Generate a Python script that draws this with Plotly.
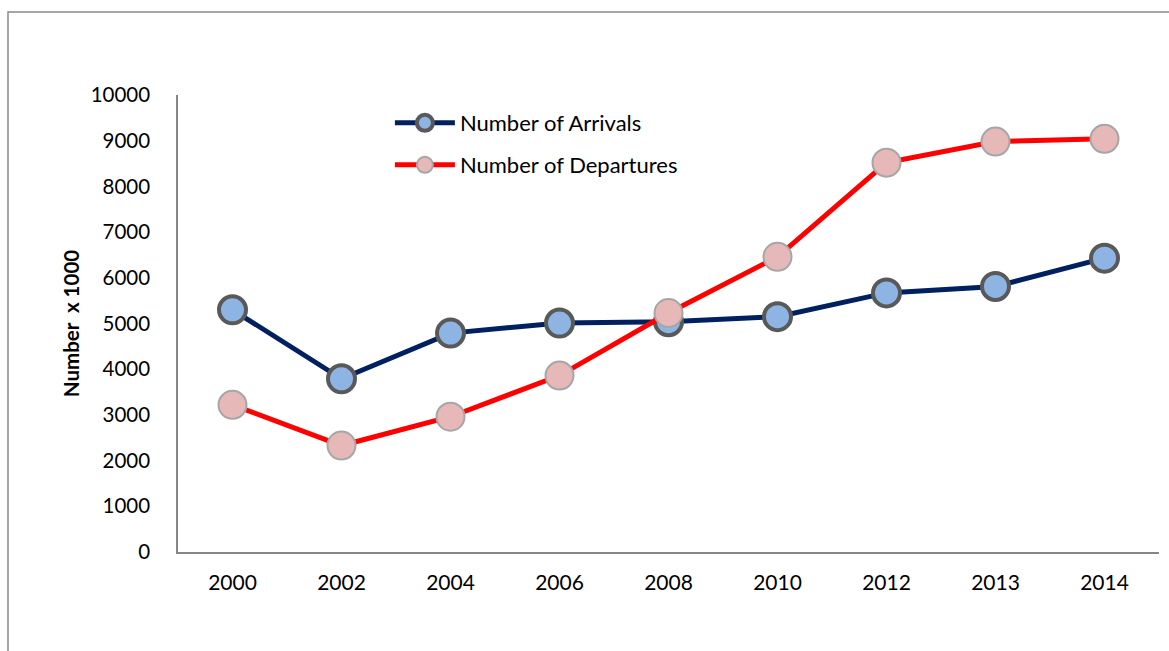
import plotly.graph_objects as go

# Annual arrivals and departures (thousands)
years = ["2000", "2002", "2004", "2006", "2008", "2010", "2012", "2013", "2014"]
arrivals = [5300, 3790, 4790, 5010, 5040, 5150, 5670, 5810, 6430]
departures = [3220, 2330, 2960, 3860, 5230, 6460, 8520, 8980, 9040]
y_ticks = [0, 1000, 2000, 3000, 4000, 5000, 6000, 7000, 8000, 9000, 10000]
y_tick_labels = [str(v) for v in y_ticks]

FONT = "Lato, Calibri, Carlito, sans-serif"

fig = go.Figure()

fig.add_trace(go.Scatter(
    x=years, y=arrivals, name="Number of Arrivals",
    mode="lines+markers",
    line=dict(color="#002060", width=5),
    marker=dict(size=27, color="#8DB4E2", line=dict(color="#595959", width=4)),
    legend="legend",
))
fig.add_trace(go.Scatter(
    x=years, y=departures, name="Number of Departures",
    mode="lines+markers",
    line=dict(color="#FF0000", width=5),
    marker=dict(size=28, color="#E6B9B8", line=dict(color="#A6A6A6", width=2)),
    legend="legend2",
))

axis_col = "#868686"
fig.update_layout(
    width=1169, height=651,
    margin=dict(l=178, r=10, t=95, b=99),
    paper_bgcolor="white", plot_bgcolor="white",
    font=dict(family=FONT, size=21, color="#000000"),
    xaxis=dict(
        type="category", range=[-0.5, 8.5], showgrid=False, zeroline=False,
        showline=True, linecolor=axis_col, linewidth=1.5,
        ticks="", ticklabelstandoff=11,
        tickfont=dict(size=21),
    ),
    yaxis=dict(
        range=[0, 10000], tickvals=y_ticks, ticktext=y_tick_labels,
        showgrid=False, zeroline=False,
        showline=True, linecolor=axis_col, linewidth=1.5,
        ticks="", ticklabelstandoff=22,
        tickfont=dict(size=20.5),
        title=dict(text="<b>Number  x 1000</b>", font=dict(size=20.5), standoff=6),
    ),
    legend=dict(
        x=0.216, y=0.9387, xanchor="left", yanchor="middle",
        itemwidth=60, bgcolor="rgba(0,0,0,0)",
        font=dict(size=22),
    ),
    legend2=dict(
        x=0.216, y=0.8468, xanchor="left", yanchor="middle",
        itemwidth=60, bgcolor="rgba(0,0,0,0)",
        font=dict(size=22),
    ),
    showlegend=True,
)

# Outer chart frame
fig.add_shape(
    type="rect", xref="paper", yref="paper",
    x0=-0.1733, x1=1.05, y0=-0.4, y1=1.1816,
    line=dict(color="#898989", width=1.5), fillcolor="rgba(0,0,0,0)",
    layer="below",
)

fig.write_html("out.html")
